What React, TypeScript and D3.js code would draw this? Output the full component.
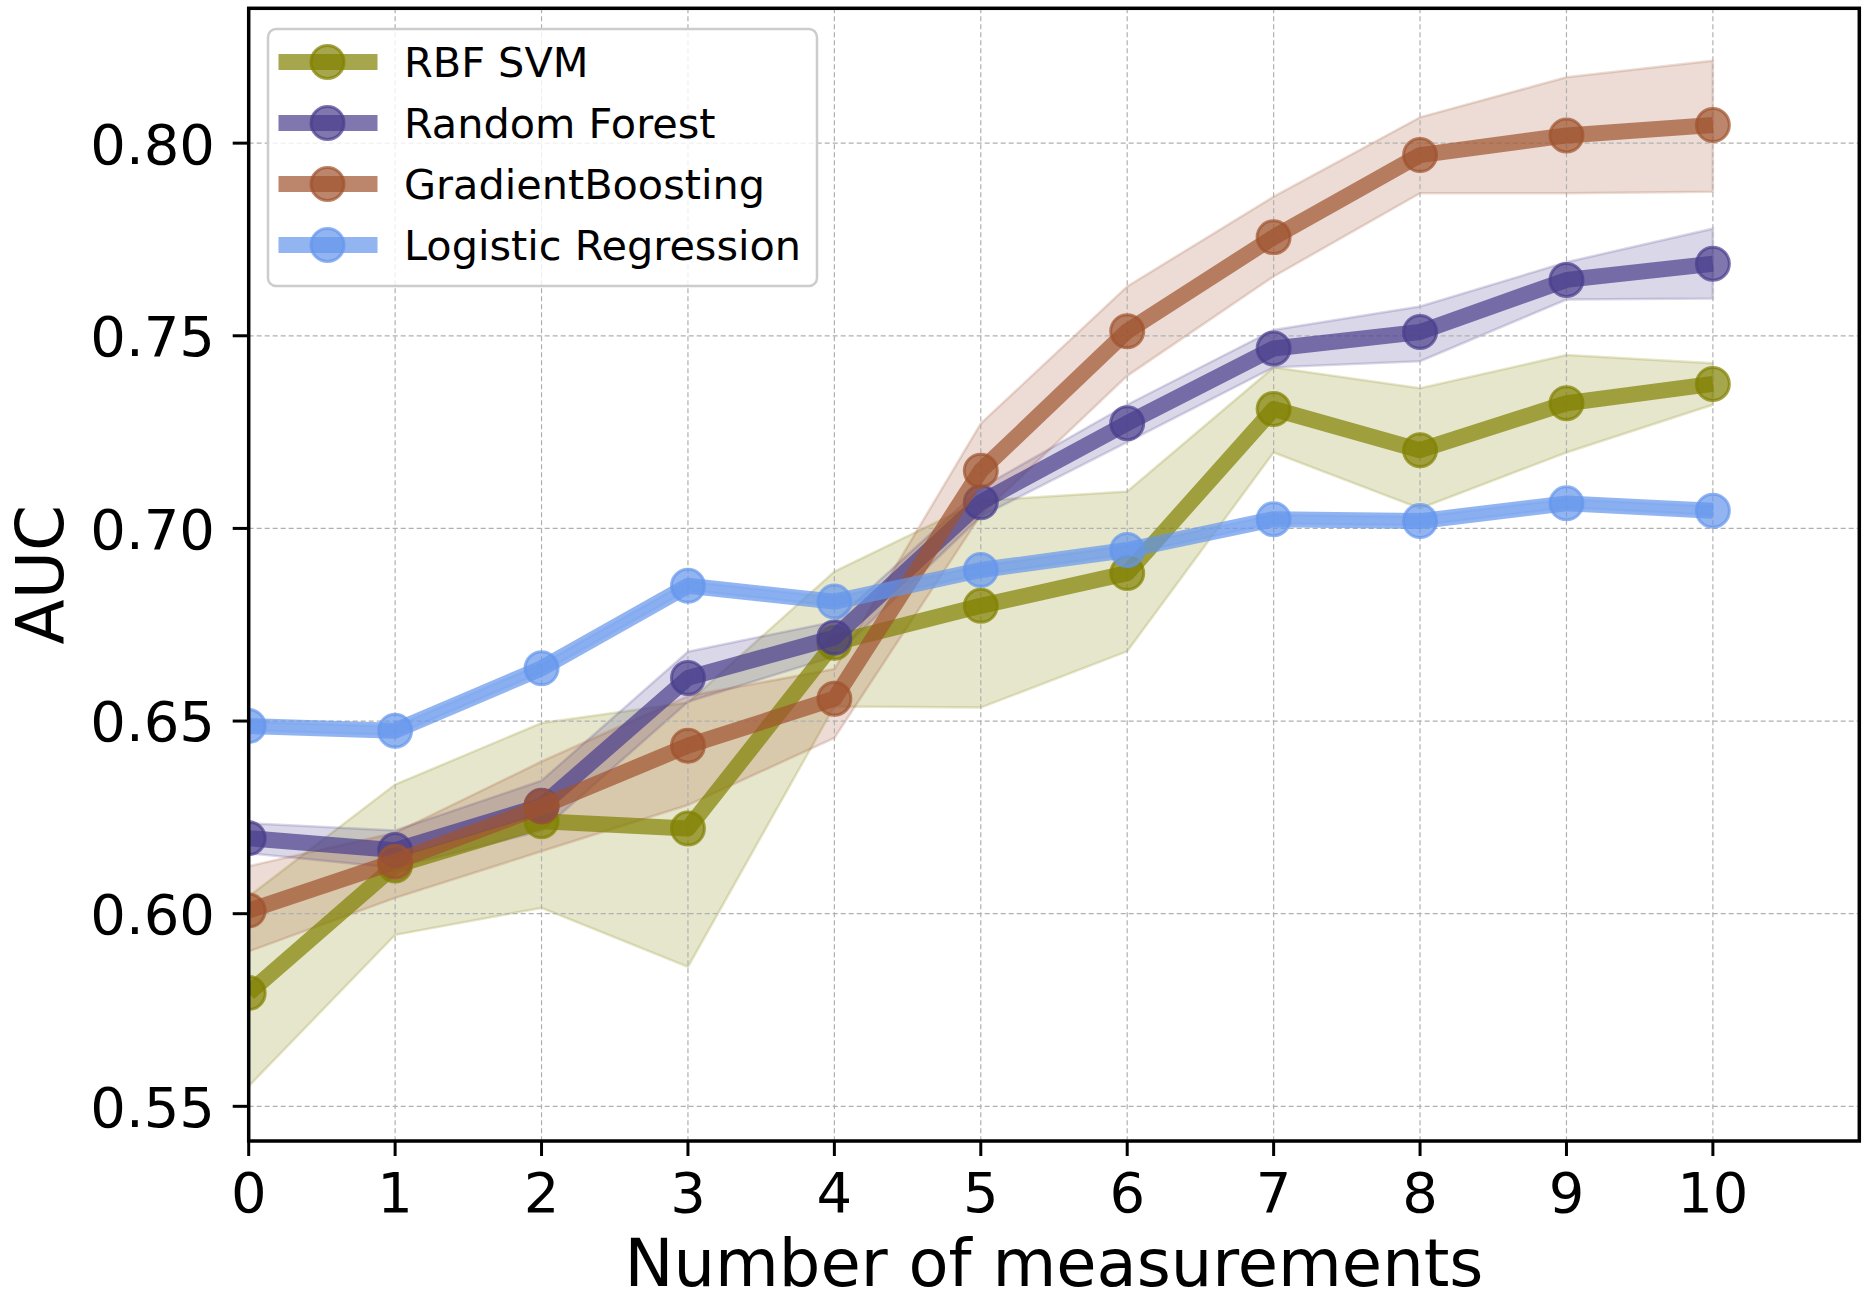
import * as d3 from "d3";

// x positions: number of measurements
const steps = [0, 1, 2, 3, 4, 5, 6, 7, 8, 9, 10];

const svmMean = [0.5794, 0.6125, 0.624, 0.6221, 0.6703, 0.6799, 0.6884, 0.731, 0.7203, 0.7325, 0.7375];
const svmLower = [0.5552, 0.5945, 0.6015, 0.5862, 0.6538, 0.6535, 0.6681, 0.7197, 0.7052, 0.7197, 0.7321];
const svmUpper = [0.6045, 0.6335, 0.6495, 0.6548, 0.6888, 0.7072, 0.7096, 0.7418, 0.7364, 0.745, 0.7429];

const rfMean = [0.6196, 0.6165, 0.628, 0.6612, 0.6717, 0.7068, 0.7273, 0.7467, 0.751, 0.7645, 0.7687];
const rfLower = [0.6157, 0.6119, 0.6215, 0.655, 0.6668, 0.7031, 0.7224, 0.7418, 0.7434, 0.7594, 0.7597];
const rfUpper = [0.6235, 0.6216, 0.6345, 0.668, 0.6758, 0.7105, 0.7321, 0.7515, 0.7576, 0.7691, 0.7778];

const gbMean = [0.6008, 0.6135, 0.6278, 0.6436, 0.6558, 0.715, 0.7512, 0.7756, 0.7969, 0.802, 0.8047];
const gbLower = [0.5902, 0.6041, 0.6162, 0.6282, 0.6456, 0.7035, 0.7396, 0.7654, 0.787, 0.787, 0.7874];
const gbUpper = [0.6123, 0.621, 0.6395, 0.6565, 0.6635, 0.7272, 0.7628, 0.7861, 0.8067, 0.8171, 0.8214];

const lrMean = [0.6487, 0.6475, 0.6637, 0.6851, 0.681, 0.6892, 0.6944, 0.7024, 0.7019, 0.7065, 0.7046];
const lrLower = [0.6476, 0.6464, 0.6626, 0.684, 0.6799, 0.6881, 0.6933, 0.7013, 0.7008, 0.7054, 0.7035];
const lrUpper = [0.6498, 0.6486, 0.6648, 0.6862, 0.6821, 0.6903, 0.6955, 0.7035, 0.703, 0.7076, 0.7057];

const yTicks = [0.55, 0.6, 0.65, 0.7, 0.75, 0.8];

const series = [
    { name: "RBF SVM", color: "#808000", mean: svmMean, lower: svmLower, upper: svmUpper },
    { name: "Random Forest", color: "#483D8B", mean: rfMean, lower: rfLower, upper: rfUpper },
    { name: "GradientBoosting", color: "#A0522D", mean: gbMean, lower: gbLower, upper: gbUpper },
    { name: "Logistic Regression", color: "#6495ED", mean: lrMean, lower: lrLower, upper: lrUpper },
];

const W = 1870;
const H = 1302;
const plot = { left: 248.7, right: 1859.3, top: 8.3, bottom: 1141 };
const font = "DejaVu Sans";

export default function App() {
    const x = d3.scaleLinear().domain([0, 11]).range([plot.left, plot.right]);
    const y = d3.scaleLinear().domain([0.541, 0.835]).range([plot.bottom, plot.top]);

    const line = d3
        .line<number>()
        .x((_, i) => x(steps[i]))
        .y((d) => y(d));

    const band = (lo: number[], hi: number[]) =>
        d3
            .area<number>()
            .x((i) => x(steps[i]))
            .y0((i) => y(lo[i]))
            .y1((i) => y(hi[i]))(steps.map((_, i) => i));

    const lineAlpha = 0.7;
    const lineW = 16;
    const markerR = 16.5;
    const legendFont = 41.4;

    return (
        <div style={{ position: "absolute", left: 0, top: 0 }}>
            <svg width={W} height={H} style={{ display: "block", background: "#fff" }} fontFamily={font}>
                <defs>
                    <clipPath id="plotClip">
                        <rect x={plot.left} y={plot.top} width={plot.right - plot.left} height={plot.bottom - plot.top} />
                    </clipPath>
                </defs>

                {/* std bands */}
                <g clipPath="url(#plotClip)">
                    {series.map((s) => (
                        <path
                            key={s.name + "-band"}
                            d={band(s.lower, s.upper) || ""}
                            fill={s.color}
                            fillOpacity={0.2}
                            stroke={s.color}
                            strokeOpacity={0.2}
                            strokeWidth={2.5}
                        />
                    ))}
                </g>

                {/* grid */}
                <g stroke="#b0b0b0" strokeWidth={1.2} strokeDasharray="5,3">
                    {steps.map((t) => (
                        <line key={"gx" + t} x1={x(t)} x2={x(t)} y1={plot.top} y2={plot.bottom} />
                    ))}
                    {yTicks.map((t) => (
                        <line key={"gy" + t} x1={plot.left} x2={plot.right} y1={y(t)} y2={y(t)} />
                    ))}
                </g>

                {/* mean lines with markers */}
                <g clipPath="url(#plotClip)">
                    {series.map((s) => (
                        <g key={s.name + "-line"}>
                            <path
                                d={line(s.mean) || ""}
                                fill="none"
                                stroke={s.color}
                                strokeOpacity={lineAlpha}
                                strokeWidth={lineW}
                                strokeLinejoin="round"
                            />
                            {s.mean.map((v, i) => (
                                <circle
                                    key={i}
                                    cx={x(steps[i])}
                                    cy={y(v)}
                                    r={markerR}
                                    fill={s.color}
                                    fillOpacity={lineAlpha}
                                    stroke={s.color}
                                    strokeOpacity={lineAlpha}
                                    strokeWidth={3}
                                />
                            ))}
                        </g>
                    ))}
                </g>

                {/* axes frame */}
                <rect
                    x={plot.left}
                    y={plot.top}
                    width={plot.right - plot.left}
                    height={plot.bottom - plot.top}
                    fill="none"
                    stroke="#000"
                    strokeWidth={3.5}
                />

                {/* y ticks */}
                {yTicks.map((t) => (
                    <g key={"yt" + t}>
                        <line x1={plot.left - 16} x2={plot.left} y1={y(t)} y2={y(t)} stroke="#000" strokeWidth={3} />
                        <text x={215} y={y(t) + 0.364 * 56} fontSize={56} textAnchor="end" fill="#000">
                            {d3.format(".2f")(t)}
                        </text>
                    </g>
                ))}

                {/* x ticks */}
                {steps.map((t) => (
                    <g key={"xt" + t}>
                        <line x1={x(t)} x2={x(t)} y1={plot.bottom} y2={plot.bottom + 15} stroke="#000" strokeWidth={3} />
                        <text x={x(t)} y={1212} fontSize={56} textAnchor="middle" fill="#000">
                            {t}
                        </text>
                    </g>
                ))}

                {/* axis labels */}
                <text x={(plot.left + plot.right) / 2} y={1286} fontSize={65.5} textAnchor="middle" fill="#000">
                    Number of measurements
                </text>
                <text
                    transform={`translate(63,${(plot.top + plot.bottom) / 2}) rotate(-90)`}
                    fontSize={66}
                    textAnchor="middle"
                    fill="#000"
                >
                    AUC
                </text>

                {/* legend */}
                <g>
                    <rect x={268} y={29} width={549} height={257} rx={8} fill="#fff" fillOpacity={0.8} stroke="#cccccc" strokeWidth={2.5} />
                    {series.map((s, i) => {
                        const cy = 62 + i * 61;
                        return (
                            <g key={s.name + "-leg"}>
                                <line x1={278.5} x2={377.5} y1={cy} y2={cy} stroke={s.color} strokeOpacity={lineAlpha} strokeWidth={lineW} />
                                <circle
                                    cx={327.5}
                                    cy={cy}
                                    r={markerR}
                                    fill={s.color}
                                    fillOpacity={lineAlpha}
                                    stroke={s.color}
                                    strokeOpacity={lineAlpha}
                                    strokeWidth={3}
                                />
                                <text x={404} y={cy + 0.364 * legendFont} fontSize={legendFont} fill="#000">
                                    {s.name}
                                </text>
                            </g>
                        );
                    })}
                </g>
            </svg>
        </div>
    );
}
